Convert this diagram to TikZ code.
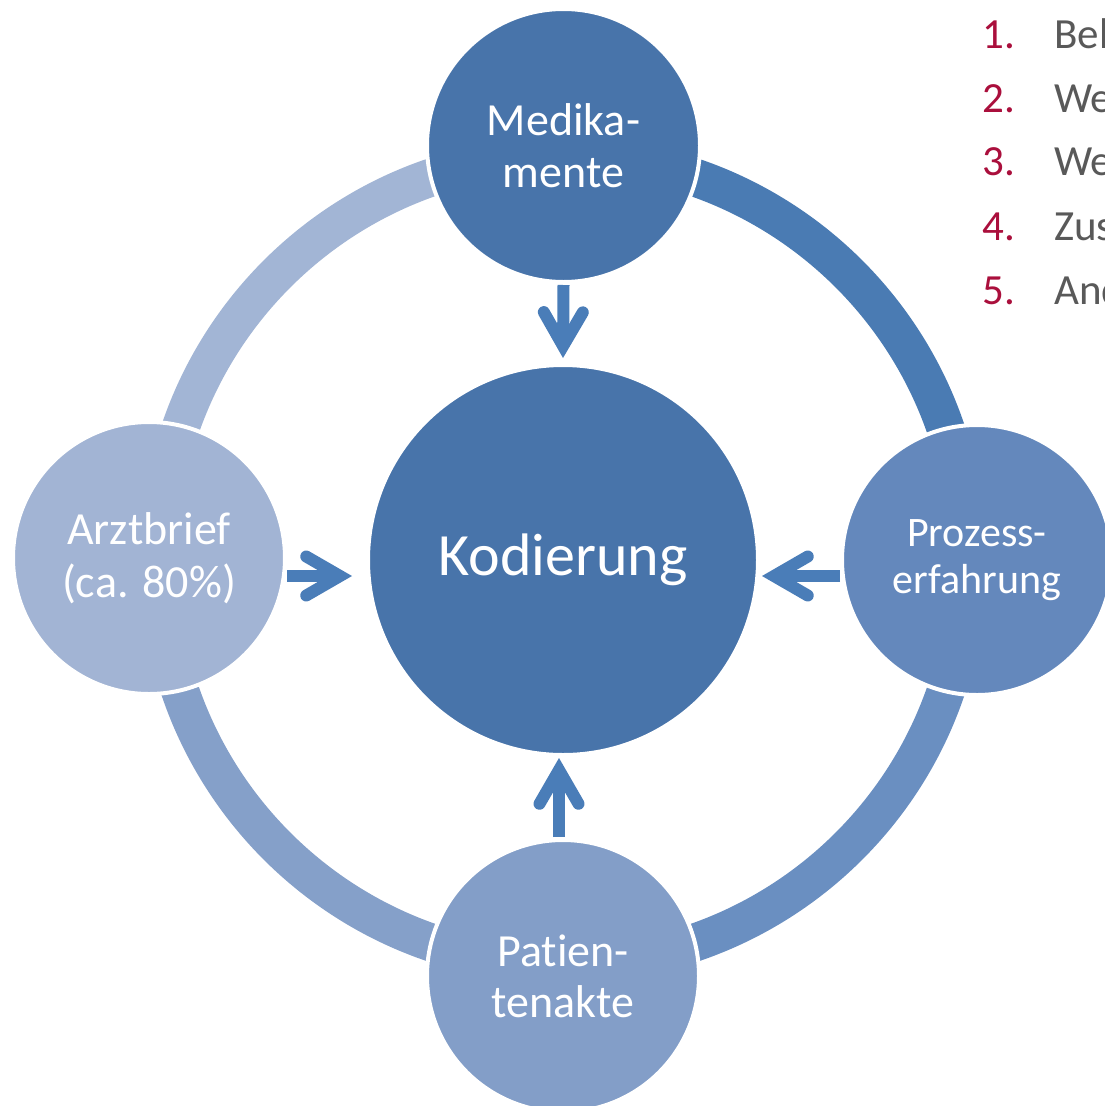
\documentclass[tikz,border=0pt]{standalone}
\usepackage{fontspec}
\setmainfont{Carlito}[Ligatures=CommonOff]
\usetikzlibrary{calc}
\definecolor{cMed}{RGB}{72,116,170}
\definecolor{cKod}{RGB}{72,116,170}
\definecolor{cProz}{RGB}{100,136,188}
\definecolor{cPat}{RGB}{131,158,200}
\definecolor{cArzt}{RGB}{162,180,212}
\definecolor{aTR}{RGB}{74,123,179}
\definecolor{aBR}{RGB}{106,143,193}
\definecolor{aBL}{RGB}{133,160,201}
\definecolor{aTL}{RGB}{162,181,213}
\definecolor{cArr}{RGB}{74,125,184}
\definecolor{cNum}{RGB}{170,15,60}
\definecolor{cGray}{RGB}{89,89,89}
\tikzset{
  ringarc/.style={line width=38pt},
  bubble/.style={circle, draw=white, line width=4pt, inner sep=0pt, outer sep=0pt, text=white, align=center},
  arrowshaft/.style={draw=cArr, line width=12pt, line cap=butt},
  arrowhead/.style={draw=cArr, line width=12pt, line cap=round, line join=miter},
  listnum/.style={anchor=base west, text=cNum, inner sep=0pt, font=\fontsize{43}{52}\selectfont},
  listitem/.style={anchor=base west, text=cGray, inner sep=0pt, font=\fontsize{43}{52}\selectfont}
}
\newcommand\blockarrow[2]{%
  \coordinate (h) at ($(#2)!12pt!(#1)$);
  \draw[arrowshaft] (#1) -- (h);
  \draw[arrowhead] ($(h)!39pt!30:(#1)$) -- (h) -- ($(h)!39pt!-30:(#1)$);
}
\begin{document}
\begin{tikzpicture}[x=1pt,y=-1pt]
\useasboundingbox (0,0) rectangle (1105,1106);
\clip (0,0) rectangle (1105,1106);
\coordinate (ring) at (563,560);
% ring segments
\draw[ringarc, draw=aTR] (ring) ++(270:404.5) arc[start angle=270, end angle=360, radius=404.5];
\draw[ringarc, draw=aBR] (ring) ++(0:404.5) arc[start angle=0, end angle=90, radius=404.5];
\draw[ringarc, draw=aBL] (ring) ++(90:404.5) arc[start angle=90, end angle=180, radius=404.5];
\draw[ringarc, draw=aTL] (ring) ++(180:404.5) arc[start angle=180, end angle=270, radius=404.5];
% circles
\node[bubble, fill=cKod, minimum size=390pt, font=\fontsize{60}{72}\selectfont] (kod) at (563,560) {Kodierung};
\node[bubble, fill=cMed, minimum size=273pt, font=\fontsize{46}{52}\selectfont] (med) at (563.5,145.5) {Medika-\\mente};
\node[bubble, fill=cProz, minimum size=270pt, font=\fontsize{42}{47}\selectfont] (proz) at (977,560) {Prozess-\\erfahrung};
\node[bubble, fill=cPat, minimum size=272pt, font=\fontsize{46}{51}\selectfont] (pat) at (563,976) {Patien-\\tenakte};
\node[bubble, fill=cArzt, minimum size=272pt, font=\fontsize{46}{53}\selectfont] (arzt) at (149,558) {Arztbrief\\(ca. 80\%)};
% arrows
\coordinate (a1s) at ([yshift=-3pt]med.south);
\coordinate (a1t) at ([yshift=7pt]kod.north);
\coordinate (a2s) at ([xshift=-4pt,yshift=3pt]pat.north);
\coordinate (a2t) at ([xshift=-4pt,yshift=-3pt]kod.south);
\coordinate (a3s) at ([xshift=2pt,yshift=-18pt]arzt.east);
\coordinate (a3t) at ([xshift=-16pt,yshift=-16pt]kod.west);
\coordinate (a4s) at ([xshift=-2pt,yshift=-16pt]proz.west);
\coordinate (a4t) at ([xshift=4pt,yshift=-16pt]kod.east);
\blockarrow{a1s}{a1t}
\blockarrow{a2s}{a2t}
\blockarrow{a3s}{a3t}
\blockarrow{a4s}{a4t}
% list
\node[listnum] (n1) at (982,48) {1.};
\node[listitem] (t1) at (1054,48) {Beh};
\node[listnum] (n2) at (982,112) {2.};
\node[listitem] (t2) at (1054,112) {We};
\node[listnum] (n3) at (982,175) {3.};
\node[listitem] (t3) at (1054,175) {We};
\node[listnum] (n4) at (982,240) {4.};
\node[listitem] (t4) at (1054,240) {Zus};
\node[listnum] (n5) at (982,304) {5.};
\node[listitem] (t5) at (1054,304) {And};
\end{tikzpicture}
\end{document}
